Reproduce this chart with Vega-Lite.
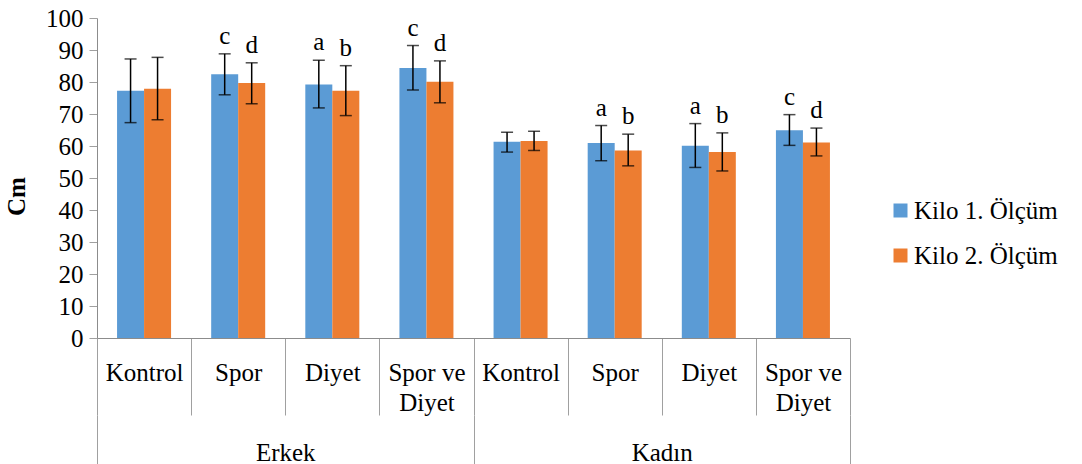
{
  "$schema": "https://vega.github.io/schema/vega-lite/v6.json",
  "width": 753,
  "height": 320,
  "autosize": {"type": "none"},
  "padding": {"left": 97, "top": 18, "right": 232, "bottom": 126},
  "config": {
    "view": {"stroke": null},
    "axis": {"labelColor": "black", "titleColor": "black", "domainColor": "#8c8c8c", "tickColor": "#a0a0a0", "grid": false}
  },
  "data": {
    "values": [
      {"cins": "Erkek", "k": "Erkek|Kontrol", "olcum": "Kilo 1. Ölçüm", "ort": 77.3, "lo": 67.3, "hi": 87.2, "harf": ""},
      {"cins": "Erkek", "k": "Erkek|Kontrol", "olcum": "Kilo 2. Ölçüm", "ort": 77.9, "lo": 68.2, "hi": 87.7, "harf": ""},
      {"cins": "Erkek", "k": "Erkek|Spor", "olcum": "Kilo 1. Ölçüm", "ort": 82.4, "lo": 76.0, "hi": 88.8, "harf": "c"},
      {"cins": "Erkek", "k": "Erkek|Spor", "olcum": "Kilo 2. Ölçüm", "ort": 79.7, "lo": 73.2, "hi": 86.0, "harf": "d"},
      {"cins": "Erkek", "k": "Erkek|Diyet", "olcum": "Kilo 1. Ölçüm", "ort": 79.2, "lo": 71.9, "hi": 86.8, "harf": "a"},
      {"cins": "Erkek", "k": "Erkek|Diyet", "olcum": "Kilo 2. Ölçüm", "ort": 77.3, "lo": 69.5, "hi": 85.1, "harf": "b"},
      {"cins": "Erkek", "k": "Erkek|Spor ve Diyet", "olcum": "Kilo 1. Ölçüm", "ort": 84.4, "lo": 77.5, "hi": 91.4, "harf": "c"},
      {"cins": "Erkek", "k": "Erkek|Spor ve Diyet", "olcum": "Kilo 2. Ölçüm", "ort": 80.1, "lo": 73.5, "hi": 86.6, "harf": "d"},
      {"cins": "Kadın", "k": "Kadın|Kontrol", "olcum": "Kilo 1. Ölçüm", "ort": 61.3, "lo": 58.1, "hi": 64.3, "harf": ""},
      {"cins": "Kadın", "k": "Kadın|Kontrol", "olcum": "Kilo 2. Ölçüm", "ort": 61.6, "lo": 58.6, "hi": 64.6, "harf": ""},
      {"cins": "Kadın", "k": "Kadın|Spor", "olcum": "Kilo 1. Ölçüm", "ort": 60.9, "lo": 55.4, "hi": 66.4, "harf": "a"},
      {"cins": "Kadın", "k": "Kadın|Spor", "olcum": "Kilo 2. Ölçüm", "ort": 58.6, "lo": 53.8, "hi": 63.7, "harf": "b"},
      {"cins": "Kadın", "k": "Kadın|Diyet", "olcum": "Kilo 1. Ölçüm", "ort": 60.1, "lo": 53.3, "hi": 67.0, "harf": "a"},
      {"cins": "Kadın", "k": "Kadın|Diyet", "olcum": "Kilo 2. Ölçüm", "ort": 58.1, "lo": 52.2, "hi": 64.1, "harf": "b"},
      {"cins": "Kadın", "k": "Kadın|Spor ve Diyet", "olcum": "Kilo 1. Ölçüm", "ort": 64.9, "lo": 60.2, "hi": 69.8, "harf": "c"},
      {"cins": "Kadın", "k": "Kadın|Spor ve Diyet", "olcum": "Kilo 2. Ölçüm", "ort": 61.1, "lo": 56.9, "hi": 65.6, "harf": "d"}
    ]
  },
  "layer": [
    {
      "encoding": {
        "x": {
          "field": "k", "type": "nominal", "sort": null,
          "scale": {"type": "band", "paddingInner": 0, "paddingOuter": 0},
          "axis": {
            "title": null, "orient": "bottom", "labelAngle": 0, "tickSize": 77, "tickBand": "extent",
            "labelFont": "Liberation Serif", "labelFontSize": 25, "labelColor": "black",
            "labelPadding": -55, "labelBaseline": "top", "labelLineHeight": 30, "labelOverlap": false, "labelLimit": 200,
            "labelExpr": "split(datum.label, '|')[1] == 'Spor ve Diyet' ? ['Spor ve', 'Diyet'] : split(datum.label, '|')[1]"
          }
        },
        "xOffset": {"field": "olcum", "type": "nominal", "scale": {"paddingInner": 0, "paddingOuter": 0.743}},
        "y": {
          "type": "quantitative",
          "scale": {"domain": [0, 100], "nice": false},
          "axis": {
            "title": "Cm", "values": [0, 10, 20, 30, 40, 50, 60, 70, 80, 90, 100], "tickSize": 8, "labelPadding": 6,
            "labelFont": "Liberation Serif", "labelFontSize": 25, "labelColor": "black",
            "titleFontSize": 25, "titleFontWeight": "bold", "titleFont": "Liberation Serif", "titleX": -81, "titleY": 178,
            "titleAngle": 270, "titleAlign": "center", "titleBaseline": "middle"
          }
        }
      },
      "layer": [
        {
          "mark": {"type": "bar"},
          "encoding": {
            "y": {"field": "ort", "type": "quantitative"},
            "color": {
              "field": "olcum", "type": "nominal",
              "scale": {"range": ["#5B9BD5", "#ED7D31"]},
              "legend": {
                "title": null, "orient": "none", "legendX": 791, "legendY": 180, "padding": 0,
                "labelFont": "Liberation Serif", "labelFontSize": 25, "labelColor": "black",
                "symbolType": "square", "symbolSize": 196,
                "symbolStrokeWidth": 0, "rowPadding": 19, "labelOffset": 1
              }
            }
          }
        },
        {
          "mark": {"type": "rule", "color": "black", "strokeWidth": 1.5},
          "encoding": {"y": {"field": "lo", "type": "quantitative"}, "y2": {"field": "hi"}}
        },
        {
          "mark": {"type": "tick", "orient": "horizontal", "size": 12, "thickness": 1.5, "color": "black"},
          "encoding": {"y": {"field": "lo", "type": "quantitative"}}
        },
        {
          "mark": {"type": "tick", "orient": "horizontal", "size": 12, "thickness": 1.5, "color": "black"},
          "encoding": {"y": {"field": "hi", "type": "quantitative"}}
        },
        {
          "mark": {"type": "text", "font": "Liberation Serif", "fontSize": 25, "baseline": "alphabetic", "dy": -10, "color": "black"},
          "encoding": {"y": {"field": "hi", "type": "quantitative"}, "text": {"field": "harf"}}
        }
      ]
    },
    {
      "mark": {"type": "rule", "opacity": 0},
      "encoding": {
        "x": {
          "field": "cins", "type": "nominal", "sort": null,
          "scale": {"type": "band", "paddingInner": 0, "paddingOuter": 0},
          "axis": {
            "title": null, "orient": "bottom", "offset": 77, "domain": false, "labelAngle": 0, "tickSize": 49,
            "labelFont": "Liberation Serif", "labelFontSize": 25, "labelColor": "black",
            "tickBand": "extent", "labelPadding": -24, "labelBaseline": "top", "labelOverlap": false
          }
        }
      }
    }
  ],
  "resolve": {"scale": {"x": "independent"}, "axis": {"x": "independent"}}
}
